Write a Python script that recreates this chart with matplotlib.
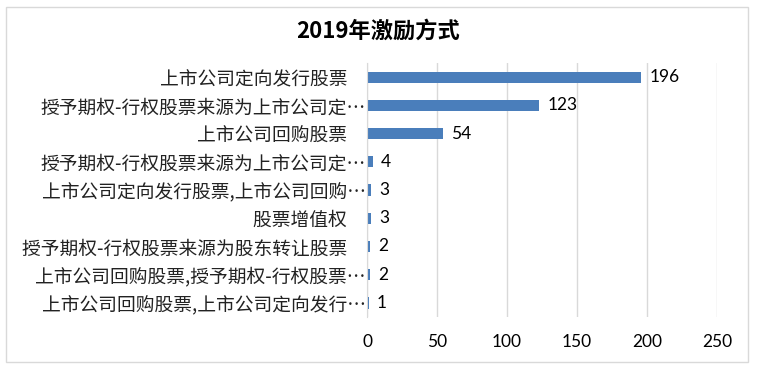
import matplotlib
matplotlib.use('Agg')
import matplotlib.pyplot as plt
from matplotlib.patches import Rectangle

plt.rcParams['font.family'] = ['Noto Sans CJK SC', 'DejaVu Sans']

# data, top to bottom as in the chart
categories = [
    '上市公司定向发行股票\u3000',
    '授予期权-行权股票来源为上市公司定…',
    '上市公司回购股票\u3000',
    '授予期权-行权股票来源为上市公司定…',
    '上市公司定向发行股票,上市公司回购…',
    '股票增值权\u3000',
    '授予期权-行权股票来源为股东转让股票\u3000',
    '上市公司回购股票,授予期权-行权股票…',
    '上市公司回购股票,上市公司定向发行…',
]
counts = [196, 123, 54, 4, 3, 3, 2, 2, 1]
xticks = [0, 50, 100, 150, 200, 250]

bar_color = '#4a7ebb'
grid_color = '#d9d9d9'

fig = plt.figure(figsize=(7.57, 3.69), dpi=100)
ax = fig.add_axes([0.485, 0.141, 0.462, 0.688])

ypos = list(range(len(categories)))
ax.barh(ypos, counts, height=0.4, color=bar_color, zorder=3)

# value labels at the bar ends
for y, v in zip(ypos, counts):
    ax.annotate(str(v), (v, y), xytext=(6, 0), textcoords='offset points',
                va='center', ha='left', fontsize=12.5, family='Lato', color='#000000')

ax.set_xlim(0, 250)
ax.set_ylim(-0.5, len(categories) - 0.5)
ax.invert_yaxis()
ax.set_xticks(xticks)
ax.set_xticklabels([str(t) for t in xticks], fontsize=12.5, family='Lato')
ax.set_yticks(ypos)
ax.set_yticklabels(categories, fontsize=13.5, color='#222222')
ax.tick_params(axis='y', length=0, pad=1)
ax.tick_params(axis='x', length=0, pad=12)

ax.grid(axis='x', color=grid_color, linewidth=1, zorder=0)
for s in ['top', 'right', 'bottom']:
    ax.spines[s].set_visible(False)
ax.spines['left'].set_color(grid_color)
ax.spines['left'].set_zorder(4)

fig.text(0.5, 0.915, '2019年激励方式', ha='center', va='center',
         fontsize=16, fontweight='bold')

# chart border
fig.patches.append(Rectangle((6 / 757, 7 / 369), 742 / 757, 355 / 369,
                             transform=fig.transFigure, fill=False,
                             edgecolor=grid_color, linewidth=1))

fig.savefig('out.png', dpi=100)
